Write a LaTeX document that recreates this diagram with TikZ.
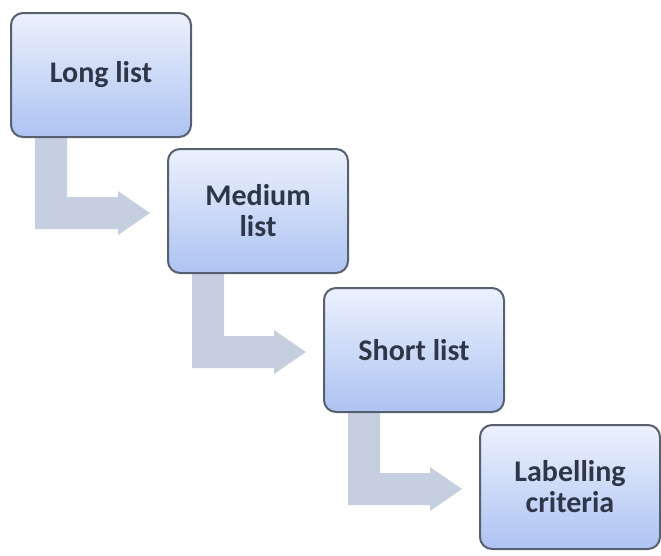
\documentclass[tikz,border=0pt]{standalone}
\usepackage{fontspec}
\setmainfont{Carlito}
\usetikzlibrary{calc,backgrounds}
\definecolor{boxedge}{HTML}{56606F}
\definecolor{boxtop}{HTML}{ECF1FD}
\definecolor{boxbot}{HTML}{ADC3F2}
\definecolor{arrowfill}{HTML}{C6CFE0}
\definecolor{txt}{HTML}{2E3648}
\begin{document}
\begin{tikzpicture}[x=1pt,y=-1pt,
  stage/.style={draw=boxedge, line width=2pt, rounded corners=12pt,
    minimum width=180pt, minimum height=124pt, top color=boxtop, bottom color=boxbot,
    font=\fontsize{30}{31}\selectfont\bfseries, text=txt, align=center,
    inner sep=0pt, anchor=north west},
  bendarrow/.style={fill=arrowfill}]
\useasboundingbox (0,0) rectangle (661,555);
\node[stage] (b1) at (10,12)  {Long list};
\node[stage] (b2) at (167,148) {Medium\\list};
\node[stage] (b3) at (323,287) {Short list};
\node[stage] (b4) at (479,424) {Labelling\\criteria};
\begin{scope}[on background layer]
\foreach \a/\b in {b1/b2,b2/b3,b3/b4}{
  \fill[bendarrow] let \p1=($(\a.south west)+(25,0)$), \p2=($(\b.west)+(-17,2)$) in
    (\x1,\y1) -- (\x1+32pt,\y1) -- (\x1+32pt,\y2+16pt) -- (\x2-32pt,\y2+16pt)
    -- (\x2-32pt,\y2+22pt) -- (\x2,\y2) -- (\x2-32pt,\y2-22pt)
    -- (\x2-32pt,\y2-16pt) -- (\x1,\y2-16pt) -- cycle;
}
\end{scope}
\end{tikzpicture}
\end{document}
